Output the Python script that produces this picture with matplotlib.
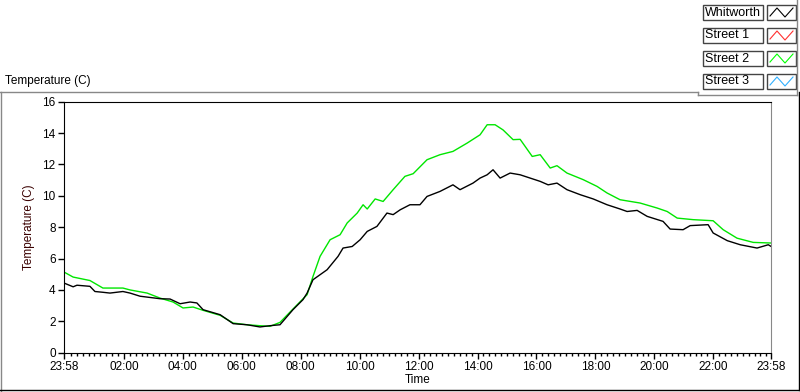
import matplotlib.pyplot as plt
from matplotlib.lines import Line2D
from matplotlib.patches import Rectangle

plt.rcParams['font.family'] = ['Liberation Sans', 'DejaVu Sans']
plt.rcParams['font.size'] = 8.5

# hours elapsed since 23:58
whit_t = [0.0, 0.31, 0.44, 0.88, 1.05, 1.32, 1.56, 2.0, 2.24, 2.58, 3.26, 3.6, 3.94,
          4.28, 4.51, 4.72, 5.3, 5.74, 6.21, 6.65, 6.99, 7.33, 7.77, 8.11, 8.25, 8.45,
          8.93, 9.3, 9.47, 9.78, 10.05, 10.29, 10.62, 10.96, 11.17, 11.41, 11.74, 12.08,
          12.32, 12.76, 13.2, 13.44, 13.88, 14.12, 14.36, 14.56, 14.8, 15.14, 15.48,
          15.82, 16.16, 16.43, 16.73, 17.07, 17.52, 17.96, 18.43, 18.87, 19.11, 19.45,
          19.79, 20.33, 20.57, 21.01, 21.25, 21.86, 22.03, 22.51, 22.95, 23.52, 23.9, 24.0]
whit_v = [4.44, 4.2, 4.3, 4.23, 3.9, 3.85, 3.8, 3.9, 3.8, 3.6, 3.44, 3.42, 3.12,
          3.23, 3.17, 2.74, 2.42, 1.85, 1.78, 1.64, 1.72, 1.78, 2.74, 3.38, 3.8, 4.65,
          5.29, 6.14, 6.67, 6.77, 7.2, 7.73, 8.05, 8.9, 8.8, 9.11, 9.43, 9.43,
          9.96, 10.28, 10.7, 10.39, 10.81, 11.13, 11.34, 11.66, 11.13, 11.45, 11.34,
          11.13, 10.92, 10.7, 10.81, 10.39, 10.07, 9.8, 9.43, 9.16, 9.0, 9.07,
          8.69, 8.37, 7.88, 7.84, 8.1, 8.16, 7.63, 7.14, 6.88, 6.67, 6.88, 6.77]

st2_t = [0.0, 0.31, 0.88, 1.32, 2.0, 2.24, 2.82, 3.26, 3.7, 4.04, 4.38, 4.72, 5.3,
         5.74, 6.21, 6.65, 6.99, 7.33, 7.77, 8.25, 8.45, 8.69, 9.03, 9.37, 9.61, 9.95,
         10.15, 10.29, 10.56, 10.83, 11.17, 11.57, 11.85, 12.32, 12.76, 13.2, 13.68,
         14.12, 14.36, 14.63, 14.9, 15.24, 15.48, 15.89, 16.16, 16.5, 16.73, 17.07,
         17.62, 18.09, 18.43, 18.87, 19.55, 20.13, 20.47, 20.81, 21.35, 22.03, 22.37,
         22.84, 23.39, 24.0]
st2_v = [5.14, 4.82, 4.6, 4.12, 4.12, 4.0, 3.8, 3.48, 3.23, 2.85, 2.91, 2.7, 2.38,
         1.89, 1.78, 1.72, 1.68, 1.93, 2.78, 3.7, 4.86, 6.14, 7.2, 7.52, 8.27, 8.9,
         9.43, 9.16, 9.8, 9.64, 10.39, 11.24, 11.41, 12.3, 12.62, 12.83, 13.36,
         13.89, 14.53, 14.53, 14.2, 13.58, 13.6, 12.51, 12.62, 11.77, 11.92, 11.45,
         11.03, 10.6, 10.18, 9.75, 9.54, 9.22, 9.0, 8.58, 8.48, 8.41, 7.84,
         7.3, 7.03, 6.99]

tick_labels = ['23:58', '02:00', '04:00', '06:00', '08:00', '10:00', '12:00',
               '14:00', '16:00', '18:00', '20:00', '22:00', '23:58']
legend_names = ['Whitworth', 'Street 1', 'Street 2', 'Street 3']
legend_colors = ['black', '#ff3030', '#00ff00', '#30b0ff']

fig = plt.figure(figsize=(8, 3.92), dpi=100)
ax = fig.add_axes([0.08, 0.1003, 0.884, 0.6403])

ax.plot(st2_t, st2_v, color='#00e600', lw=1)
ax.plot(whit_t, whit_v, color='black', lw=1)

off = 2 / 60  # 23:58 -> 00:00
major = [0] + [off + 2 * k for k in range(1, 12)] + [24]
ax.set_xticks(major)
ax.set_xticklabels(tick_labels)
ax.set_xticks([off + 0.2 * k for k in range(0, 120) if (k % 10) != 0], minor=True)
ax.set_xlim(0, 24)
ax.set_ylim(0, 16)
ax.set_yticks(range(0, 17, 2))
ax.tick_params(axis='both', direction='out', length=4, width=1, pad=2, labelsize=8.5)
ax.tick_params(axis='x', which='minor', length=2.5, width=1)
ax.set_xlabel('Time', labelpad=1)
ax.set_ylabel('Temperature (C)', color='#3a0000', labelpad=5)
ax.spines['right'].set_color('#888888')
for s in ['left', 'bottom', 'top']:
    ax.spines[s].set_color('black')

# caption above plot
fig.text(5 / 800, 1 - 81 / 392, 'Temperature (C)', ha='left', va='center', fontsize=8.5)

def px(x, y):
    return x / 800, 1 - y / 392

# outer frame
frame = [((1, 92), (1, 392), '#888888'), ((0, 92), (698, 92), '#888888'),
         ((698, 92), (698, 95), '#888888'), ((698, 95), (797, 95), '#888888'),
         ((797, 0), (797, 95), '#888888'), ((799, 92), (799, 390), 'black'),
         ((0, 390), (799, 390), 'black')]
for a, b, c in frame:
    (x0, y0), (x1, y1) = px(*a), px(*b)
    fig.add_artist(Line2D([x0, x1], [y0, y1], color=c, lw=1))

# legend boxes
for i, (name, col) in enumerate(zip(legend_names, legend_colors)):
    top = 5 + 23 * i
    x0, y0 = px(703, top + 15)
    fig.add_artist(Rectangle((x0, y0), 60 / 800, 15 / 392, fill=False,
                             edgecolor='#444444', lw=1))
    fig.text(*px(705, top + 7.5), name, ha='left', va='center', fontsize=9)
    x0, y0 = px(767, top + 15)
    fig.add_artist(Rectangle((x0, y0), 29 / 800, 15 / 392, fill=False,
                             edgecolor='#444444', lw=1))
    zx = [770, 777, 785, 793]
    zy = [top + 11, top + 3, top + 12, top + 3]
    pts = [px(a, b) for a, b in zip(zx, zy)]
    fig.add_artist(Line2D([p[0] for p in pts], [p[1] for p in pts], color=col, lw=0.8))

fig.savefig('out.png', dpi=100)
